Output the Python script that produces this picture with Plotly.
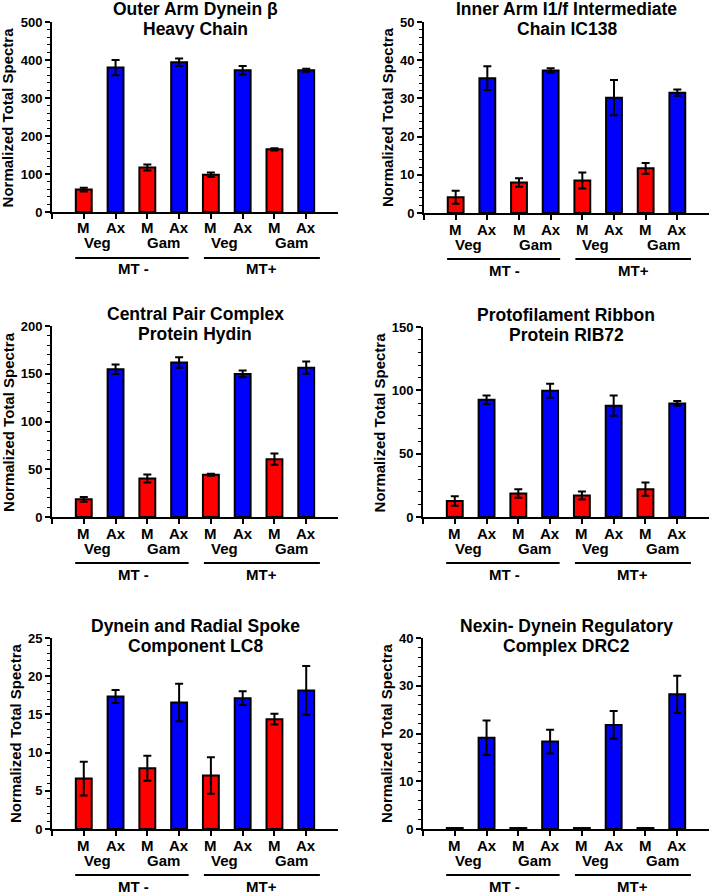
import plotly.graph_objects as go

W, H = 712, 896

# ---------------- data ----------------
bar_labels = ["M", "Ax", "M", "Ax", "M", "Ax", "M", "Ax"]
stage_labels = ["Veg", "Gam", "Veg", "Gam"]
mating_labels = ["MT -", "MT+"]

panel_titles = [
    ["Outer Arm Dynein β", "Heavy Chain"],
    ["Inner Arm I1/f Intermediate", "Chain IC138"],
    ["Central Pair Complex", "Protein Hydin"],
    ["Protofilament Ribbon", "Protein RIB72"],
    ["Dynein and Radial Spoke", "Component LC8"],
    ["Nexin- Dynein Regulatory", "Complex DRC2"],
]
y_title = "Normalized Total Spectra"

odb_vals = [59, 380, 117, 394, 98, 373, 165, 373]
odb_err = [5, 20, 8, 10, 6, 11, 3, 4]
ic138_vals = [4.1, 35.3, 8.0, 37.3, 8.5, 30.2, 11.7, 31.5]
ic138_err = [1.7, 3.1, 1.1, 0.6, 2.1, 4.6, 1.4, 0.8]
hydin_vals = [18.5, 154.7, 40.4, 161.7, 44.3, 149.8, 60.6, 156.4]
hydin_err = [2.5, 5.0, 4.2, 5.5, 1.0, 3.5, 6.0, 6.3]
rib72_vals = [12.6, 92.6, 18.6, 99.7, 17.0, 87.9, 22.0, 89.7]
rib72_err = [3.7, 3.4, 3.4, 5.5, 3.2, 8.0, 5.2, 1.8]
lc8_vals = [6.6, 17.35, 7.95, 16.56, 7.0, 17.13, 14.38, 18.14]
lc8_err = [2.2, 0.85, 1.65, 2.45, 2.4, 0.9, 0.7, 3.2]
drc2_vals = [0.2, 19.1, 0.2, 18.3, 0.2, 21.8, 0.2, 28.2]
drc2_err = [0, 3.6, 0, 2.5, 0, 2.9, 0, 3.9]

y_max = [500, 50, 200, 150, 25, 40]
y_dtick = [100, 10, 50, 50, 5, 10]
y_minor = [20, 2, 10, 10, 1, 2]

# ---------------- style / layout ----------------
values = [odb_vals, ic138_vals, hydin_vals, rib72_vals, lc8_vals, drc2_vals]
errors = [odb_err, ic138_err, hydin_err, rib72_err, lc8_err, drc2_err]

RED = "#FF0000"
BLUE = "#0000FF"
colors = [RED if lab == "M" else BLUE for lab in bar_labels]
FONT = "Liberation Sans, Arial, Helvetica, sans-serif"

# plot-area boxes in pixels: (left, right, top, bottom)
boxes = [
    (52, 338, 22, 212),
    (424, 709, 22, 213),
    (52, 338, 326, 517),
    (423, 709, 327, 517),
    (52, 338, 638, 829),
    (423, 709, 638, 829),
]

xpos = list(range(len(bar_labels)))
stage_x = [0.42, 2.52, 4.42, 6.55]
mating_x = [1.55, 5.6]
mating_lines = [(-0.27, 3.3), (3.78, 7.43)]

fig = go.Figure()
layout = dict(
    template="none",
    width=W, height=H, autosize=False,
    margin=dict(l=0, r=0, t=0, b=0, pad=0),
    paper_bgcolor="white", plot_bgcolor="white",
    showlegend=False,
    font=dict(family=FONT, color="black"),
)
annotations = []
shapes = []


def bold(size):
    return dict(family=FONT, size=size, color="black", weight="bold")


for i in range(6):
    n = "" if i == 0 else str(i + 1)
    xa, ya = "x" + n, "y" + n
    l, r, t, b = boxes[i]
    ph = b - t
    fig.add_trace(go.Bar(
        x=xpos, y=values[i], xaxis=xa, yaxis=ya,
        width=0.5,
        marker=dict(color=colors, line=dict(color="black", width=2)),
        error_y=dict(type="data", array=errors[i], visible=True,
                     color="black", thickness=2, width=4),
        hoverinfo="y",
    ))
    layout["xaxis" + n] = dict(
        domain=[l / W, r / W], anchor=ya, range=[-1, 8], automargin=False,
        showgrid=False, zeroline=False, showline=True, linecolor="black",
        linewidth=2, ticks="outside", ticklen=5, tickwidth=2, tickcolor="black",
        tickvals=[-1] + xpos, showticklabels=False, fixedrange=True,
    )
    layout["yaxis" + n] = dict(
        domain=[1 - b / H, 1 - t / H], anchor=xa, range=[0, y_max[i]],
        automargin=False,
        showgrid=False, zeroline=False, showline=True, linecolor="black",
        linewidth=2, ticks="outside", ticklen=5, tickwidth=2, tickcolor="black",
        dtick=y_dtick[i], tick0=0, tickfont=bold(13),
        minor=dict(dtick=y_minor[i], ticks="outside", ticklen=3, tickwidth=1,
                   tickcolor="black"),
        fixedrange=True,
    )
    # panel title, two lines
    for line_text, shift in zip(panel_titles[i], [12.5, -7.5]):
        annotations.append(dict(
            text=line_text, xref=xa + " domain", yref=ya + " domain",
            x=0.5, y=1, xanchor="center", yanchor="middle", yshift=shift,
            showarrow=False, font=bold(17.5),
        ))
    # y-axis title
    nd = len(str(y_max[i]))
    annotations.append(dict(
        text=y_title, xref=xa + " domain", yref=ya + " domain",
        x=0, y=0.5, xanchor="center", yanchor="middle", textangle=-90,
        xshift=-(22 + 7.2 * nd), showarrow=False, font=bold(15),
    ))
    # category labels
    for xp, lab in zip(xpos, bar_labels):
        annotations.append(dict(
            text=lab, xref=xa, yref=ya + " domain", x=xp, y=0,
            xanchor="center", yanchor="middle", yshift=-16, showarrow=False,
            font=bold(15),
        ))
    for xp, lab in zip(stage_x, stage_labels):
        annotations.append(dict(
            text=lab, xref=xa, yref=ya + " domain", x=xp, y=0,
            xanchor="center", yanchor="middle", yshift=-31, showarrow=False,
            font=bold(15),
        ))
    for xp, lab in zip(mating_x, mating_labels):
        annotations.append(dict(
            text=lab, xref=xa, yref=ya + " domain", x=xp, y=0,
            xanchor="center", yanchor="middle", yshift=-57, showarrow=False,
            font=bold(15),
        ))
    for x0, x1 in mating_lines:
        shapes.append(dict(
            type="line", xref=xa, yref=ya + " domain",
            x0=x0, x1=x1, y0=-46 / ph, y1=-46 / ph,
            line=dict(color="black", width=2),
        ))

layout["annotations"] = annotations
layout["shapes"] = shapes
fig.update_layout(**layout)
# remove the default page margin so the figure sits at the top-left corner
fig.write_html(
    "out.html",
    config={"displayModeBar": False, "staticPlot": True},
    post_script="document.body.style.margin='0px';",
)
